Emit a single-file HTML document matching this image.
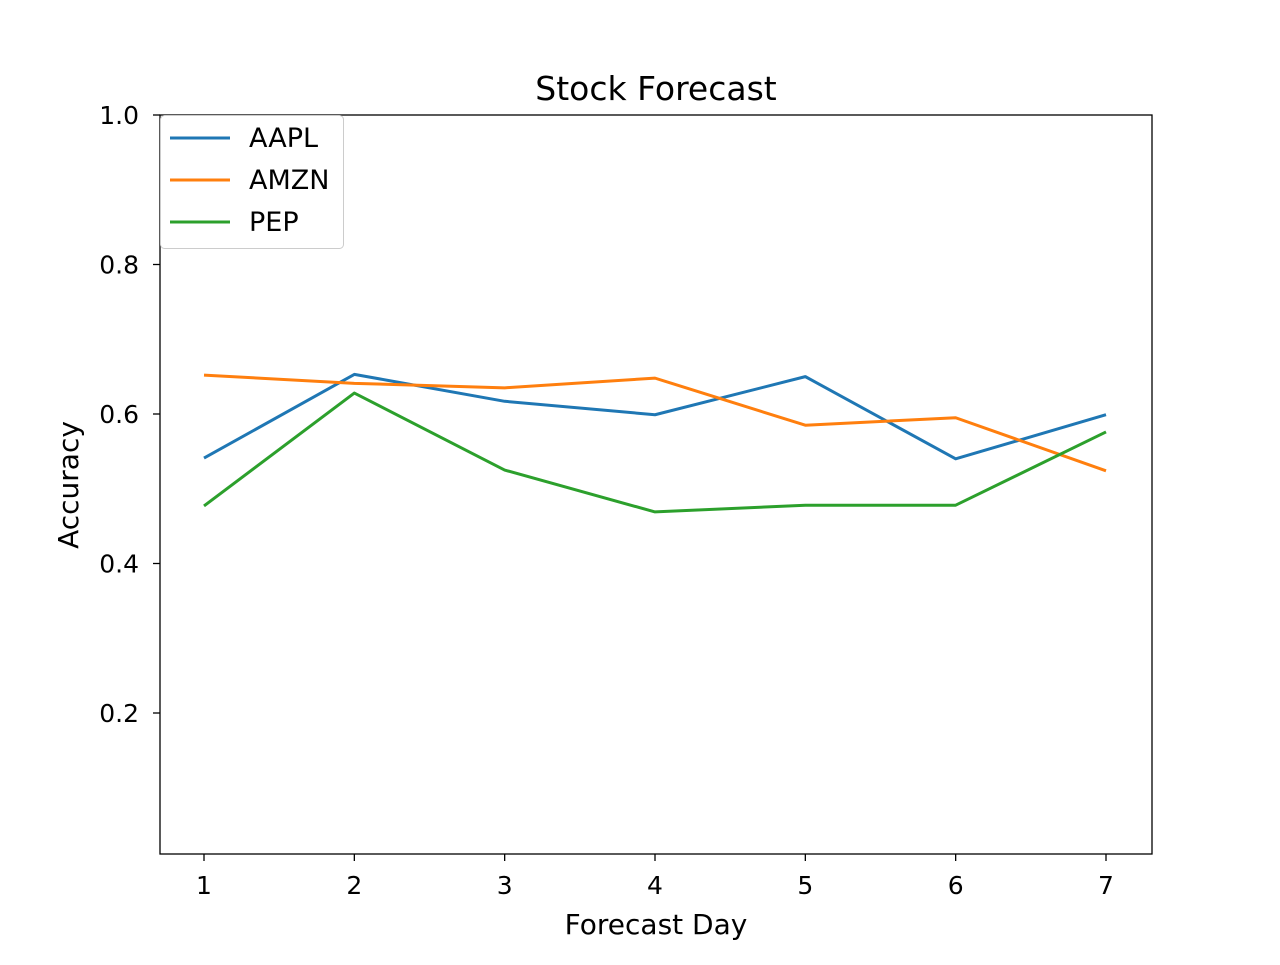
<!DOCTYPE html>
<html><head><meta charset="utf-8"><style>
html,body{margin:0;padding:0;background:#fff;}
svg text{font-family:"DejaVu Sans","Liberation Sans",sans-serif;fill:#000;}
</style></head><body>
<svg id="chart" width="1280" height="960" xmlns="http://www.w3.org/2000/svg">
<rect width="1280" height="960" fill="#fff"/>
<text x="656" y="100" font-size="33" text-anchor="middle">Stock Forecast</text>
<text x="656" y="934" font-size="28" text-anchor="middle">Forecast Day</text>
<text transform="translate(78,485) rotate(-90)" font-size="28" text-anchor="middle">Accuracy</text>
<g id="ticks"></g>
<g id="series"></g>
<rect x="160" y="115" width="992" height="739" fill="none" stroke="#000" stroke-width="1.3"/>
<g>
<rect x="160.5" y="115.5" width="183" height="133" rx="4" fill="#fff" fill-opacity="0.8" stroke="#ccc"/>
<g id="legend-items"></g>
</g>
</svg>
<script>
const days = [1,2,3,4,5,6,7];
const seriesNames = ["AAPL","AMZN","PEP"];
const seriesColors = ["#1f77b4","#ff7f0e","#2ca02c"];
const aapl = [0.541,0.653,0.617,0.599,0.650,0.540,0.599];
const amzn = [0.652,0.641,0.635,0.648,0.585,0.595,0.524];
const pep = [0.477,0.628,0.525,0.469,0.478,0.478,0.576];
const yTicks = [0.2,0.4,0.6,0.8,1.0];
const yTickLabels = ["0.2","0.4","0.6","0.8","1.0"];

const NS="http://www.w3.org/2000/svg";
const xScale = d => 204 + (d-1)*(1106-204)/6;
const yScale = v => 115 + (1-v)*747.5;
function mk(tag, attrs, parent){const e=document.createElementNS(NS,tag);for(const k in attrs)e.setAttribute(k,attrs[k]);parent.appendChild(e);return e;}
const ticks=document.getElementById('ticks');
days.forEach(d=>{
  const x=xScale(d);
  const l=mk('line',{x1:x,x2:x,y1:854,y2:861,stroke:'#000','stroke-width':1.3},ticks);
  
  
  const t=mk('text',{x:x,y:894,'font-size':25,'text-anchor':'middle'},ticks);
  t.textContent=String(d);
  
  
});
yTicks.forEach((v,i)=>{
  const y=yScale(v);
  const l=mk('line',{x1:153,x2:160,y1:y,y2:y,stroke:'#000','stroke-width':1.3},ticks);
  
  
  const t=mk('text',{x:139,y:y+9,'font-size':25,'text-anchor':'end'},ticks);
  t.textContent=yTickLabels[i];
  
  
});
const sg=document.getElementById('series');
const allData=[aapl,amzn,pep];
allData.forEach((vals,i)=>{
  const pts=vals.map((v,j)=>xScale(days[j])+','+yScale(v)).join(' ');
  const p=mk('polyline',{points:pts,fill:'none',stroke:seriesColors[i],'stroke-width':3,'stroke-linejoin':'round'},sg);
  
  
});
const lg=document.getElementById('legend-items');
seriesNames.forEach((n,i)=>{
  const y=138+i*42;
  const l=mk('line',{x1:170,x2:230,y1:y,y2:y,stroke:seriesColors[i],'stroke-width':3},lg);
  
  
  const t=mk('text',{x:249,y:y+9,'font-size':27},lg);
  t.textContent=n;
  
  
});
</script>
</body></html>
